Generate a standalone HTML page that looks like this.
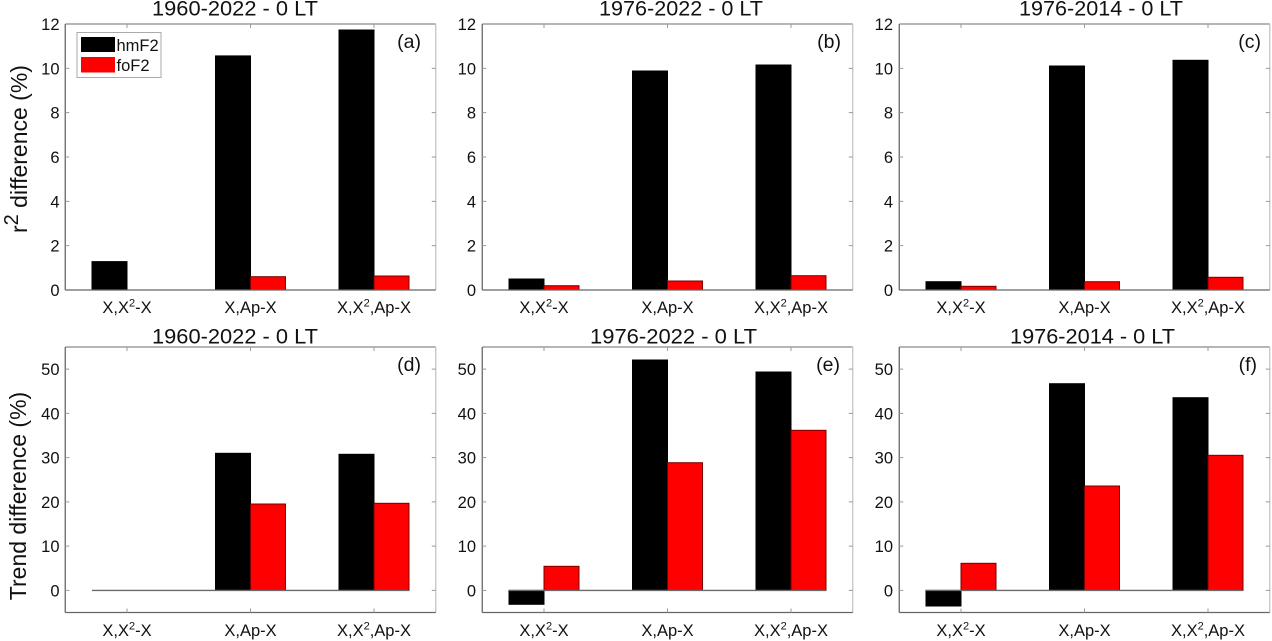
<!DOCTYPE html>
<html>
<head>
<meta charset="utf-8">
<style>
  html, body { margin: 0; padding: 0; background: #ffffff; }
  svg { display: block; }
  text { font-family: "Liberation Sans", Arial, sans-serif; fill: #111; }
</style>
</head>
<body>
<svg width="1272" height="641" viewBox="0 0 1272 641" xmlns="http://www.w3.org/2000/svg">
  <rect x="0" y="0" width="1272" height="641" fill="#fff"/>

  <!-- ============ TOP ROW ============ -->
  <!-- Titles -->
  <text x="152" y="15.5" font-size="21.5" textLength="166" lengthAdjust="spacingAndGlyphs">1960-2022 - 0 LT</text>
  <text x="599" y="15.5" font-size="21.5" textLength="164" lengthAdjust="spacingAndGlyphs">1976-2022 - 0 LT</text>
  <text x="1019" y="15.5" font-size="21.5" textLength="164" lengthAdjust="spacingAndGlyphs">1976-2014 - 0 LT</text>

  <!-- Y label top -->
  <text transform="translate(27,233) rotate(-90)" font-size="23">r<tspan font-size="20" dy="-9">2</tspan><tspan dy="9"> difference (%)</tspan></text>

  <!-- Panel (a) bars -->
  <g>
    <rect x="92" y="261.6" width="35" height="28.4" fill="#000" stroke="#000" stroke-width="1"/>
    <rect x="215.5" y="55.9" width="35" height="234.1" fill="#000" stroke="#000" stroke-width="1"/>
    <rect x="250.5" y="276.7" width="35" height="13.3" fill="#ff0000" stroke="#7a0000" stroke-width="1"/>
    <rect x="339" y="30" width="35" height="260" fill="#000" stroke="#000" stroke-width="1"/>
    <rect x="374" y="276" width="35" height="14" fill="#ff0000" stroke="#7a0000" stroke-width="1"/>
  </g>
  <!-- Panel (b) bars -->
  <g>
    <rect x="509" y="279" width="35" height="11" fill="#000" stroke="#000" stroke-width="1"/>
    <rect x="544" y="285.7" width="35" height="4.3" fill="#ff0000" stroke="#7a0000" stroke-width="1"/>
    <rect x="632.5" y="71" width="35" height="219" fill="#000" stroke="#000" stroke-width="1"/>
    <rect x="667.5" y="281" width="35" height="9" fill="#ff0000" stroke="#7a0000" stroke-width="1"/>
    <rect x="756" y="65" width="35" height="225" fill="#000" stroke="#000" stroke-width="1"/>
    <rect x="791" y="275.7" width="35" height="14.3" fill="#ff0000" stroke="#7a0000" stroke-width="1"/>
  </g>
  <!-- Panel (c) bars -->
  <g>
    <rect x="926" y="281.7" width="35" height="8.3" fill="#000" stroke="#000" stroke-width="1"/>
    <rect x="961" y="286.3" width="35" height="3.7" fill="#ff0000" stroke="#7a0000" stroke-width="1"/>
    <rect x="1049.5" y="66" width="35" height="224" fill="#000" stroke="#000" stroke-width="1"/>
    <rect x="1084.5" y="281.7" width="35" height="8.3" fill="#ff0000" stroke="#7a0000" stroke-width="1"/>
    <rect x="1173" y="60.3" width="35" height="229.7" fill="#000" stroke="#000" stroke-width="1"/>
    <rect x="1208" y="277.3" width="35" height="12.7" fill="#ff0000" stroke="#7a0000" stroke-width="1"/>
  </g>

  <!-- Top axes frames + ticks -->
  <g stroke-width="1.3" fill="none">
    <!-- (a) -->
    <line x1="65.25" y1="24" x2="435.75" y2="24" stroke="#8a8a8a"/>
    <line x1="435.75" y1="24" x2="435.75" y2="290" stroke="#c4c4c4"/>
    <line x1="65.25" y1="24" x2="65.25" y2="290" stroke="#666"/>
    <line x1="65.25" y1="290" x2="435.75" y2="290" stroke="#666"/>
    <!-- (b) -->
    <line x1="482.25" y1="24" x2="852.75" y2="24" stroke="#8a8a8a"/>
    <line x1="852.75" y1="24" x2="852.75" y2="290" stroke="#c4c4c4"/>
    <line x1="482.25" y1="24" x2="482.25" y2="290" stroke="#666"/>
    <line x1="482.25" y1="290" x2="852.75" y2="290" stroke="#666"/>
    <!-- (c) -->
    <line x1="899.25" y1="24" x2="1269.75" y2="24" stroke="#8a8a8a"/>
    <line x1="1269.75" y1="24" x2="1269.75" y2="290" stroke="#c4c4c4"/>
    <line x1="899.25" y1="24" x2="899.25" y2="290" stroke="#666"/>
    <line x1="899.25" y1="290" x2="1269.75" y2="290" stroke="#666"/>
  </g>
  <g stroke="#999" stroke-width="1">
    <!-- y ticks (a) -->
    <path d="M65.25 245.67h4M65.25 201.33h4M65.25 157h4M65.25 112.67h4M65.25 68.33h4
             M435.75 245.67h-4M435.75 201.33h-4M435.75 157h-4M435.75 112.67h-4M435.75 68.33h-4
             M127 24v4M250.5 24v4M374 24v4"/>
    <path d="M482.25 245.67h4M482.25 201.33h4M482.25 157h4M482.25 112.67h4M482.25 68.33h4
             M852.75 245.67h-4M852.75 201.33h-4M852.75 157h-4M852.75 112.67h-4M852.75 68.33h-4
             M544 24v4M667.5 24v4M791 24v4"/>
    <path d="M899.25 245.67h4M899.25 201.33h4M899.25 157h4M899.25 112.67h4M899.25 68.33h4
             M1269.75 245.67h-4M1269.75 201.33h-4M1269.75 157h-4M1269.75 112.67h-4M1269.75 68.33h-4
             M961 24v4M1084.5 24v4M1208 24v4"/>
  </g>

  <!-- Top y tick labels -->
  <g font-size="16.5" text-anchor="end">
    <text x="59.5" y="296">0</text><text x="59.5" y="251.7">2</text><text x="59.5" y="207.3">4</text>
    <text x="59.5" y="163">6</text><text x="59.5" y="118.7">8</text><text x="59.5" y="74.3">10</text><text x="59.5" y="30">12</text>

    <text x="476" y="296">0</text><text x="476" y="251.7">2</text><text x="476" y="207.3">4</text>
    <text x="476" y="163">6</text><text x="476" y="118.7">8</text><text x="476" y="74.3">10</text><text x="476" y="30">12</text>

    <text x="893" y="296">0</text><text x="893" y="251.7">2</text><text x="893" y="207.3">4</text>
    <text x="893" y="163">6</text><text x="893" y="118.7">8</text><text x="893" y="74.3">10</text><text x="893" y="30">12</text>
  </g>

  <!-- Top x tick labels -->
  <g font-size="16.5" text-anchor="middle">
    <text x="127" y="313">X,X<tspan font-size="11" dy="-6.5">2</tspan><tspan dy="6.5">-X</tspan></text>
    <text x="250.5" y="313">X,Ap-X</text>
    <text x="374" y="313">X,X<tspan font-size="11" dy="-6.5">2</tspan><tspan dy="6.5">,Ap-X</tspan></text>

    <text x="544" y="313">X,X<tspan font-size="11" dy="-6.5">2</tspan><tspan dy="6.5">-X</tspan></text>
    <text x="667.5" y="313">X,Ap-X</text>
    <text x="791" y="313">X,X<tspan font-size="11" dy="-6.5">2</tspan><tspan dy="6.5">,Ap-X</tspan></text>

    <text x="961" y="313">X,X<tspan font-size="11" dy="-6.5">2</tspan><tspan dy="6.5">-X</tspan></text>
    <text x="1084.5" y="313">X,Ap-X</text>
    <text x="1208" y="313">X,X<tspan font-size="11" dy="-6.5">2</tspan><tspan dy="6.5">,Ap-X</tspan></text>
  </g>

  <!-- Subplot letters top -->
  <g font-size="19.5" text-anchor="end">
    <text x="421" y="48">(a)</text>
    <text x="841" y="48">(b)</text>
    <text x="1261" y="48">(c)</text>
  </g>

  <!-- Legend -->
  <rect x="77" y="32.5" width="84" height="45" fill="#fff" stroke="#aaa" stroke-width="1"/>
  <rect x="81" y="37" width="34" height="15" fill="#000"/>
  <rect x="81" y="57" width="34" height="15.5" fill="#ff0000"/>
  <text x="116.5" y="51" font-size="16.5">hmF2</text>
  <text x="116.5" y="71" font-size="16.5">foF2</text>

  <!-- ============ BOTTOM ROW ============ -->
  <text x="152" y="343.5" font-size="21.5" textLength="166" lengthAdjust="spacingAndGlyphs">1960-2022 - 0 LT</text>
  <text x="590" y="343.5" font-size="21.5" textLength="167" lengthAdjust="spacingAndGlyphs">1976-2022 - 0 LT</text>
  <text x="1010" y="343.5" font-size="21.5" textLength="165" lengthAdjust="spacingAndGlyphs">1976-2014 - 0 LT</text>

  <text transform="translate(26,496) rotate(-90)" font-size="23" text-anchor="middle">Trend difference (%)</text>

  <!-- Panel (d) bars -->
  <g>
    <rect x="215.5" y="453.3" width="35" height="137.1" fill="#000" stroke="#000" stroke-width="1"/>
    <rect x="250.5" y="504" width="35" height="86.4" fill="#ff0000" stroke="#7a0000" stroke-width="1"/>
    <rect x="339" y="454.3" width="35" height="136.1" fill="#000" stroke="#000" stroke-width="1"/>
    <rect x="374" y="503.3" width="35" height="87.1" fill="#ff0000" stroke="#7a0000" stroke-width="1"/>
    <line x1="92" y1="590.4" x2="409" y2="590.4" stroke="#6a6a6a" stroke-width="1.4"/>
  </g>
  <!-- Panel (e) bars -->
  <g>
    <rect x="509" y="590.4" width="35" height="13.9" fill="#000" stroke="#000" stroke-width="1"/>
    <rect x="544" y="566.3" width="35" height="24.1" fill="#ff0000" stroke="#7a0000" stroke-width="1"/>
    <rect x="632.5" y="360" width="35" height="230.4" fill="#000" stroke="#000" stroke-width="1"/>
    <rect x="667.5" y="462.7" width="35" height="127.7" fill="#ff0000" stroke="#7a0000" stroke-width="1"/>
    <rect x="756" y="372" width="35" height="218.4" fill="#000" stroke="#000" stroke-width="1"/>
    <rect x="791" y="430.3" width="35" height="160.1" fill="#ff0000" stroke="#7a0000" stroke-width="1"/>
    <line x1="509" y1="590.4" x2="826" y2="590.4" stroke="#6a6a6a" stroke-width="1.4"/>
  </g>
  <!-- Panel (f) bars -->
  <g>
    <rect x="926" y="590.4" width="35" height="15.6" fill="#000" stroke="#000" stroke-width="1"/>
    <rect x="961" y="563.3" width="35" height="27.1" fill="#ff0000" stroke="#7a0000" stroke-width="1"/>
    <rect x="1049.5" y="383.7" width="35" height="206.7" fill="#000" stroke="#000" stroke-width="1"/>
    <rect x="1084.5" y="486" width="35" height="104.4" fill="#ff0000" stroke="#7a0000" stroke-width="1"/>
    <rect x="1173" y="397.7" width="35" height="192.7" fill="#000" stroke="#000" stroke-width="1"/>
    <rect x="1208" y="455.3" width="35" height="135.1" fill="#ff0000" stroke="#7a0000" stroke-width="1"/>
    <line x1="926" y1="590.4" x2="1243" y2="590.4" stroke="#6a6a6a" stroke-width="1.4"/>
  </g>

  <!-- Bottom axes frames -->
  <g stroke-width="1.3" fill="none">
    <line x1="65.25" y1="347" x2="435.75" y2="347" stroke="#8a8a8a"/>
    <line x1="435.75" y1="347" x2="435.75" y2="612.5" stroke="#c4c4c4"/>
    <line x1="65.25" y1="347" x2="65.25" y2="612.5" stroke="#666"/>
    <line x1="65.25" y1="612.5" x2="435.75" y2="612.5" stroke="#666"/>

    <line x1="482.25" y1="347" x2="852.75" y2="347" stroke="#8a8a8a"/>
    <line x1="852.75" y1="347" x2="852.75" y2="612.5" stroke="#c4c4c4"/>
    <line x1="482.25" y1="347" x2="482.25" y2="612.5" stroke="#666"/>
    <line x1="482.25" y1="612.5" x2="852.75" y2="612.5" stroke="#666"/>

    <line x1="899.25" y1="347" x2="1269.75" y2="347" stroke="#8a8a8a"/>
    <line x1="1269.75" y1="347" x2="1269.75" y2="612.5" stroke="#c4c4c4"/>
    <line x1="899.25" y1="347" x2="899.25" y2="612.5" stroke="#666"/>
    <line x1="899.25" y1="612.5" x2="1269.75" y2="612.5" stroke="#666"/>
  </g>
  <g stroke="#999" stroke-width="1">
    <path d="M65.25 590.4h4M65.25 546.15h4M65.25 501.9h4M65.25 457.65h4M65.25 413.4h4M65.25 369.15h4
             M435.75 590.4h-4M435.75 546.15h-4M435.75 501.9h-4M435.75 457.65h-4M435.75 413.4h-4M435.75 369.15h-4
             M127 347v4M250.5 347v4M374 347v4M127 612.5v-4M250.5 612.5v-4M374 612.5v-4"/>
    <path d="M482.25 590.4h4M482.25 546.15h4M482.25 501.9h4M482.25 457.65h4M482.25 413.4h4M482.25 369.15h4
             M852.75 590.4h-4M852.75 546.15h-4M852.75 501.9h-4M852.75 457.65h-4M852.75 413.4h-4M852.75 369.15h-4
             M544 347v4M667.5 347v4M791 347v4M544 612.5v-4M667.5 612.5v-4M791 612.5v-4"/>
    <path d="M899.25 590.4h4M899.25 546.15h4M899.25 501.9h4M899.25 457.65h4M899.25 413.4h4M899.25 369.15h4
             M1269.75 590.4h-4M1269.75 546.15h-4M1269.75 501.9h-4M1269.75 457.65h-4M1269.75 413.4h-4M1269.75 369.15h-4
             M961 347v4M1084.5 347v4M1208 347v4M961 612.5v-4M1084.5 612.5v-4M1208 612.5v-4"/>
  </g>

  <!-- Bottom y tick labels -->
  <g font-size="16.5" text-anchor="end">
    <text x="59.5" y="596.4">0</text><text x="59.5" y="552.2">10</text><text x="59.5" y="507.9">20</text>
    <text x="59.5" y="463.7">30</text><text x="59.5" y="419.4">40</text><text x="59.5" y="375.2">50</text>

    <text x="476" y="596.4">0</text><text x="476" y="552.2">10</text><text x="476" y="507.9">20</text>
    <text x="476" y="463.7">30</text><text x="476" y="419.4">40</text><text x="476" y="375.2">50</text>

    <text x="893" y="596.4">0</text><text x="893" y="552.2">10</text><text x="893" y="507.9">20</text>
    <text x="893" y="463.7">30</text><text x="893" y="419.4">40</text><text x="893" y="375.2">50</text>
  </g>

  <!-- Bottom x tick labels -->
  <g font-size="16.5" text-anchor="middle">
    <text x="127" y="636">X,X<tspan font-size="11" dy="-6.5">2</tspan><tspan dy="6.5">-X</tspan></text>
    <text x="250.5" y="636">X,Ap-X</text>
    <text x="374" y="636">X,X<tspan font-size="11" dy="-6.5">2</tspan><tspan dy="6.5">,Ap-X</tspan></text>

    <text x="544" y="636">X,X<tspan font-size="11" dy="-6.5">2</tspan><tspan dy="6.5">-X</tspan></text>
    <text x="667.5" y="636">X,Ap-X</text>
    <text x="791" y="636">X,X<tspan font-size="11" dy="-6.5">2</tspan><tspan dy="6.5">,Ap-X</tspan></text>

    <text x="961" y="636">X,X<tspan font-size="11" dy="-6.5">2</tspan><tspan dy="6.5">-X</tspan></text>
    <text x="1084.5" y="636">X,Ap-X</text>
    <text x="1208" y="636">X,X<tspan font-size="11" dy="-6.5">2</tspan><tspan dy="6.5">,Ap-X</tspan></text>
  </g>

  <!-- Subplot letters bottom -->
  <g font-size="19.5" text-anchor="end">
    <text x="421" y="371">(d)</text>
    <text x="840" y="371">(e)</text>
    <text x="1257" y="371">(f)</text>
  </g>
</svg>
</body>
</html>
